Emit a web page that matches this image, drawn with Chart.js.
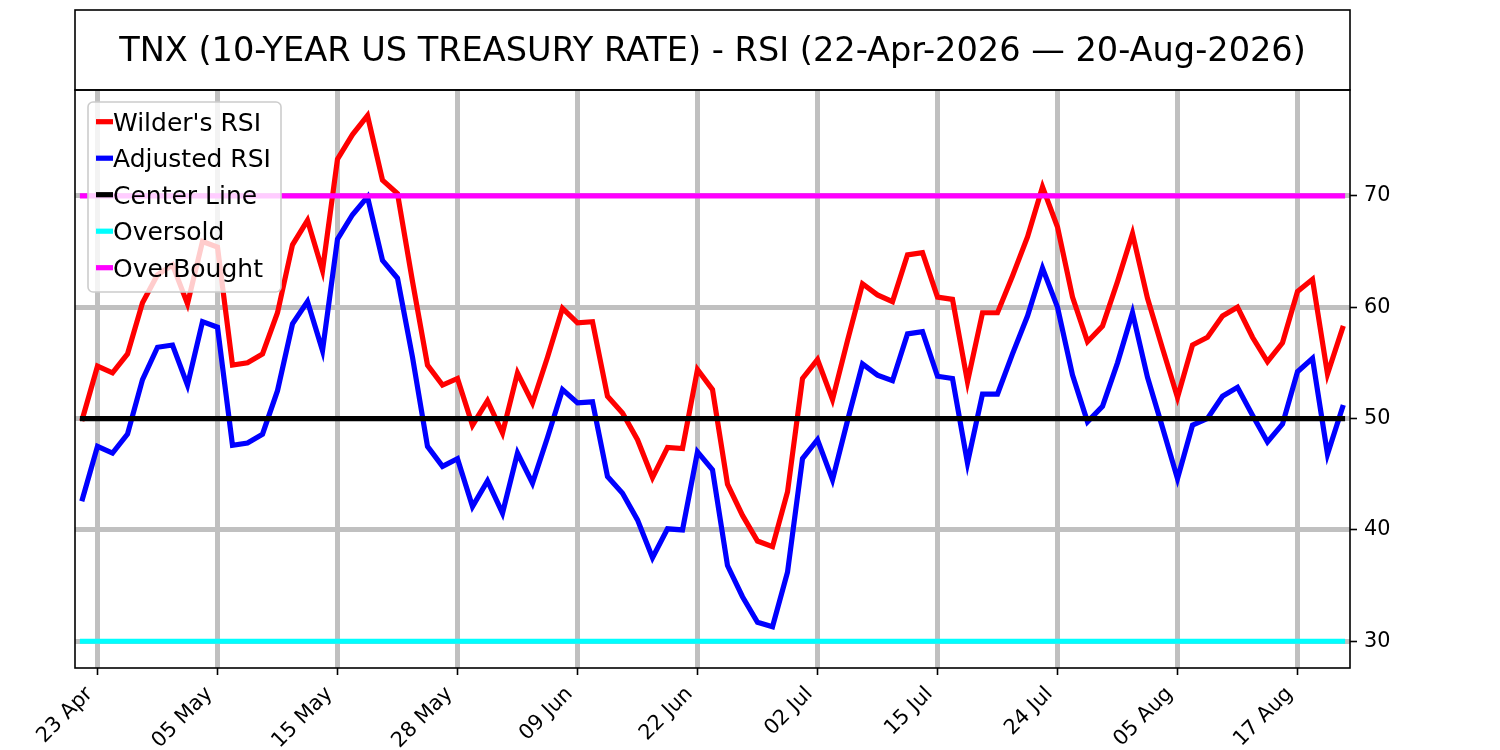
<!DOCTYPE html>
<html>
<head>
<meta charset="utf-8">
<script src="https://cdn.jsdelivr.net/npm/chart.js@4.4.0/dist/chart.umd.min.js"></script>
<style>
html,body{margin:0;padding:0;background:#fff;}
</style>
</head>
<body>
<canvas id="rsiChart" width="1500" height="750"></canvas>
<script>
var titulo = 'TNX (10-YEAR US TREASURY RATE) - RSI (22-Apr-2026 \u2014 20-Aug-2026)';

var fechas = [
    '22 Apr','23 Apr','24 Apr','27 Apr','28 Apr','29 Apr','30 Apr','01 May','04 May','05 May',
    '06 May','07 May','08 May','11 May','12 May','13 May','14 May','15 May','18 May','19 May',
    '20 May','21 May','22 May','26 May','27 May','28 May','29 May','01 Jun','02 Jun','03 Jun',
    '04 Jun','05 Jun','08 Jun','09 Jun','10 Jun','11 Jun','12 Jun','15 Jun','16 Jun','17 Jun',
    '18 Jun','22 Jun','23 Jun','24 Jun','25 Jun','26 Jun','29 Jun','30 Jun','01 Jul','02 Jul',
    '06 Jul','07 Jul','08 Jul','09 Jul','10 Jul','13 Jul','14 Jul','15 Jul','16 Jul','17 Jul',
    '18 Jul','20 Jul','21 Jul','22 Jul','23 Jul','24 Jul','27 Jul','28 Jul','29 Jul','30 Jul',
    '31 Jul','03 Aug','04 Aug','05 Aug','06 Aug','07 Aug','10 Aug','11 Aug','12 Aug','13 Aug',
    '14 Aug','17 Aug','18 Aug','19 Aug','20 Aug'
];

var rsi_wilder = [
    50.0, 54.7, 54.1, 55.8, 60.4, 62.9, 63.8, 60.3, 65.9, 65.4,
    54.8, 55.0, 55.8, 59.5, 65.6, 67.8, 63.3, 73.3, 75.5, 77.2,
    71.4, 70.2, 62.3, 54.8, 53.0, 53.6, 49.4, 51.6, 48.7, 54.1,
    51.4, 55.5, 59.9, 58.6, 58.7, 52.0, 50.5, 48.1, 44.7, 47.4,
    47.3, 54.4, 52.6, 44.1, 41.3, 39.0, 38.5, 43.4, 53.6, 55.3,
    51.7, 57.0, 62.1, 61.1, 60.5, 64.7, 64.9, 60.9, 60.7, 53.3,
    59.5, 59.5, 62.8, 66.3, 70.8, 67.2, 60.9, 56.9, 58.3, 62.3,
    66.6, 60.8, 56.3, 51.9, 56.6, 57.3, 59.2, 60.0, 57.3, 55.1,
    56.8, 61.4, 62.5, 54.0, 58.1
];

var rsi_ajustado = [
    42.8, 47.5, 46.9, 48.6, 53.5, 56.4, 56.6, 53.0, 58.7, 58.2,
    47.6, 47.8, 48.6, 52.5, 58.5, 60.5, 56.1, 66.1, 68.3, 69.9,
    64.2, 62.6, 55.5, 47.5, 45.7, 46.4, 42.1, 44.4, 41.5, 46.9,
    44.2, 48.3, 52.6, 51.4, 51.5, 44.8, 43.3, 40.9, 37.5, 40.1,
    40.0, 47.0, 45.4, 36.8, 34.0, 31.7, 31.3, 36.2, 46.4, 48.1,
    44.5, 49.8, 54.9, 53.9, 53.4, 57.6, 57.8, 53.8, 53.6, 46.0,
    52.2, 52.2, 55.8, 59.2, 63.5, 60.0, 53.9, 49.7, 51.1, 55.0,
    59.5, 53.7, 49.2, 44.6, 49.4, 50.0, 52.0, 52.8, 50.3, 47.9,
    49.5, 54.2, 55.4, 46.8, 51.0
];

var y_ticks = [30, 40, 50, 60, 70];
var nivel_centro = 50;
var nivel_sobreventa = 30;
var nivel_sobrecompra = 70;

// lineas horizontales de referencia, un valor por fecha
var linea_centro = fechas.map(() => nivel_centro);
var linea_sobreventa = fechas.map(() => nivel_sobreventa);
var linea_sobrecompra = fechas.map(() => nivel_sobrecompra);

Chart.defaults.font.family = '"DejaVu Sans", sans-serif';
Chart.defaults.color = '#000';

// caja del titulo arriba del area de la grafica
var cajaTitulo = {
    id: 'cajaTitulo',
    afterDraw(chart) {
        var ctx = chart.ctx;
        var a = chart.chartArea;
        ctx.save();
        ctx.strokeStyle = '#000';
        ctx.lineWidth = 1.6;
        ctx.strokeRect(a.left, 10, a.right - a.left, a.top - 10);
        ctx.fillStyle = '#000';
        ctx.font = '33.6px "DejaVu Sans"';
        ctx.textAlign = 'center';
        ctx.textBaseline = 'alphabetic';
        ctx.fillText(titulo, (a.left + a.right) / 2, 61);
        ctx.restore();
    }
};

// marco negro alrededor del area
var marco = {
    id: 'marco',
    afterDraw(chart) {
        var ctx = chart.ctx;
        var a = chart.chartArea;
        ctx.save();
        ctx.strokeStyle = '#000';
        ctx.lineWidth = 1.6;
        ctx.strokeRect(a.left, a.top, a.right - a.left, a.bottom - a.top);
        ctx.restore();
    }
};

// leyenda arriba a la izquierda, semi transparente
var leyenda = {
    id: 'leyenda',
    afterDatasetsDraw(chart) {
        var ctx = chart.ctx;
        ctx.save();
        ctx.beginPath();
        ctx.roundRect(88, 102, 193, 190, 5);
        ctx.fillStyle = 'rgba(255,255,255,0.8)';
        ctx.fill();
        ctx.strokeStyle = '#cccccc';
        ctx.lineWidth = 1.6;
        ctx.stroke();
        ctx.font = '25px "DejaVu Sans"';
        ctx.textBaseline = 'alphabetic';
        chart.data.datasets.forEach((ds, i) => {
            var y = 121.7 + i * 36.5;
            ctx.strokeStyle = ds.borderColor;
            ctx.lineWidth = 5.2;
            ctx.beginPath();
            ctx.moveTo(96, y);
            ctx.lineTo(113, y);
            ctx.stroke();
            ctx.fillStyle = '#000';
            ctx.fillText(ds.label, 113, y + 9);
        });
        ctx.restore();
    }
};

var ctx = document.getElementById('rsiChart').getContext('2d');
var rsiChart = new Chart(ctx, {
    type: 'line',
    data: {
        labels: fechas,
        datasets: [
            { label: "Wilder's RSI", data: rsi_wilder, borderColor: '#ff0000', order: 5 },
            { label: 'Adjusted RSI', data: rsi_ajustado, borderColor: '#0000ff', order: 4 },
            { label: 'Center Line', data: linea_centro, borderColor: '#000000', order: 3 },
            { label: 'Oversold', data: linea_sobreventa, borderColor: '#00ffff', order: 2 },
            { label: 'OverBought', data: linea_sobrecompra, borderColor: '#ff00ff', order: 1 }
        ]
    },
    options: {
        responsive: false,
        animation: false,
        layout: { padding: { left: 75, top: 90, right: 0, bottom: 0 } },
        elements: {
            point: { radius: 0 },
            line: { borderWidth: 5.2, tension: 0, fill: false, borderCapStyle: 'square' }
        },
        plugins: {
            legend: { display: false },
            title: { display: false },
            tooltip: { enabled: false }
        },
        scales: {
            x: {
                type: 'category',
                offset: true,
                afterBuildTicks: (axis) => {
                    axis.ticks = axis.ticks.filter(t => t.value % 8 === 1);
                },
                afterFit: (scale) => { scale.height = 82; },
                grid: {
                    offset: false,
                    color: '#c0c0c0',
                    lineWidth: 5,
                    tickColor: '#000',
                    tickWidth: 1.6,
                    tickLength: 7
                },
                border: { display: false },
                ticks: {
                    autoSkip: false,
                    minRotation: 45,
                    maxRotation: 45,
                    padding: 7,
                    labelOffset: -8,
                    font: { size: 20.8 }
                }
            },
            y: {
                position: 'right',
                min: 27.6,
                max: 79.5,
                afterBuildTicks: (axis) => {
                    axis.ticks = y_ticks.map(v => ({ value: v }));
                },
                afterFit: (scale) => { scale.width = 150; },
                grid: {
                    color: '#c0c0c0',
                    lineWidth: 5,
                    tickColor: '#000',
                    tickWidth: 1.6,
                    tickLength: 7
                },
                border: { display: false },
                ticks: {
                    padding: 7,
                    font: { size: 20.8 }
                }
            }
        }
    },
    plugins: [cajaTitulo, leyenda, marco]
});
</script>
</body>
</html>
